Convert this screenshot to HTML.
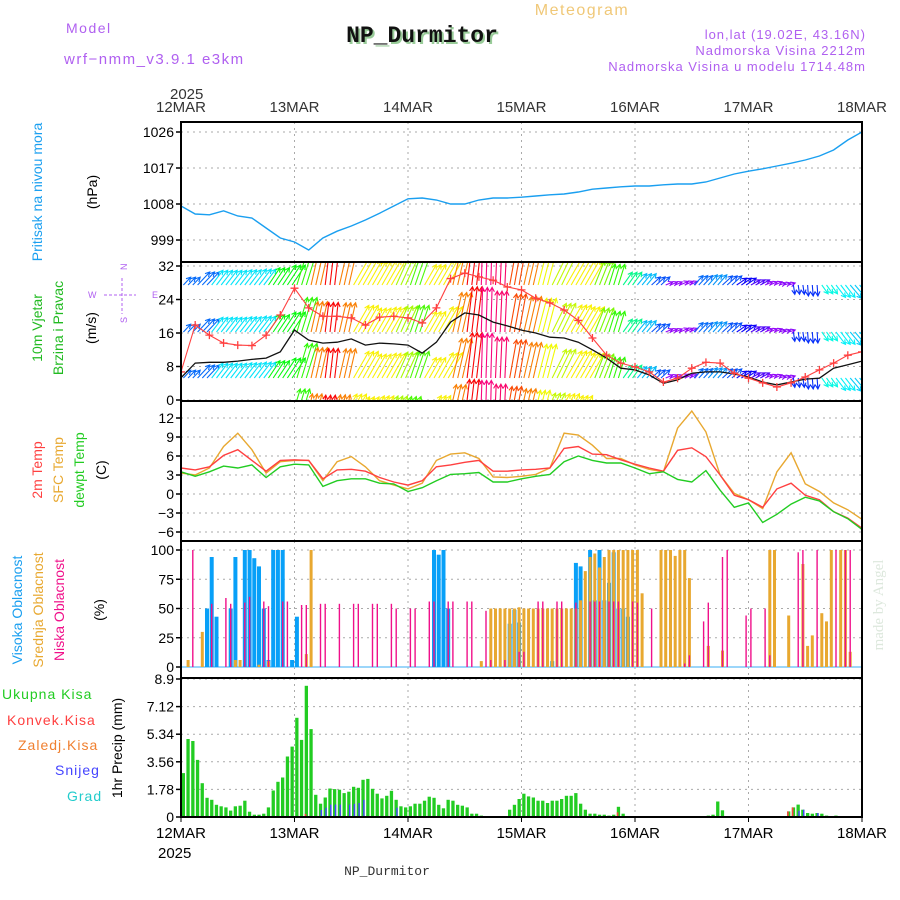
<!DOCTYPE html>
<html><head><meta charset="utf-8"><style>
html,body{margin:0;padding:0;background:#fff;}
svg{display:block;font-family:"Liberation Sans",sans-serif;}
</style></head><body>
<svg id="chart" width="900" height="900" viewBox="0 0 900 900" xmlns="http://www.w3.org/2000/svg">
<rect x="0" y="0" width="900" height="900" fill="#fff"/>
<g id="header">
<text x="66" y="33" font-size="14" fill="#b060f0" letter-spacing="1.5">Model</text>
<text x="64" y="64" font-size="15" fill="#b060f0" letter-spacing="1.5">wrf−nmm_v3.9.1 e3km</text>
<text x="424" y="44" font-size="23" font-weight="bold" font-family="Liberation Mono, monospace" fill="#9c9" text-anchor="middle">NP_Durmitor</text>
<text x="422" y="42" font-size="23" font-weight="bold" font-family="Liberation Mono, monospace" fill="#111" text-anchor="middle">NP_Durmitor</text>
<text x="582" y="15" font-size="16" fill="#f0c878" text-anchor="middle" letter-spacing="1.5">Meteogram</text>
<text x="866" y="39" font-size="13" fill="#b060f0" text-anchor="end" letter-spacing="1">lon,lat (19.02E, 43.16N)</text>
<text x="866" y="55" font-size="13" fill="#b060f0" text-anchor="end" letter-spacing="1">Nadmorska Visina 2212m</text>
<text x="866" y="71" font-size="13" fill="#b060f0" text-anchor="end" letter-spacing="1">Nadmorska Visina u modelu 1714.48m</text>
</g>
<g id="gridg"></g>
<g id="marks"></g>
<g id="frames"></g>
<g id="labels">
<text transform="translate(42,192) rotate(-90)" font-size="14" fill="#1a9ff0" text-anchor="middle">Pritisak na nivou mora</text>
<text transform="translate(97,192) rotate(-90)" font-size="14" fill="#000" text-anchor="middle">(hPa)</text>
<text transform="translate(42,328) rotate(-90)" font-size="14" fill="#22bb22" text-anchor="middle">10m Vjetar</text>
<text transform="translate(63,328) rotate(-90)" font-size="14" fill="#22bb22" text-anchor="middle">Brzina i Pravac</text>
<text transform="translate(96,328) rotate(-90)" font-size="14" fill="#000" text-anchor="middle">(m/s)</text>
<g fill="#b060f0" font-size="9">
<text x="88" y="298">W</text>
<text x="152" y="298">E</text>
<text transform="translate(127,270) rotate(-90)">N</text>
<text transform="translate(127,323) rotate(-90)">S</text>
<line x1="104" y1="295" x2="136" y2="295" stroke="#b060f0" stroke-dasharray="3,2"/>
<line x1="122" y1="278" x2="122" y2="314" stroke="#b060f0" stroke-dasharray="3,2"/>
</g>
<text transform="translate(42,470) rotate(-90)" font-size="14" fill="#ff4040" text-anchor="middle">2m Temp</text>
<text transform="translate(63,470) rotate(-90)" font-size="14" fill="#e8a830" text-anchor="middle">SFC Temp</text>
<text transform="translate(84,470) rotate(-90)" font-size="14" fill="#22cc22" text-anchor="middle">dewpt Temp</text>
<text transform="translate(106,470) rotate(-90)" font-size="14" fill="#000" text-anchor="middle">(C)</text>
<text transform="translate(22,610) rotate(-90)" font-size="14" fill="#1a9ff0" text-anchor="middle">Visoka Oblacnost</text>
<text transform="translate(43,610) rotate(-90)" font-size="14" fill="#e8a830" text-anchor="middle">Srednja Oblacnost</text>
<text transform="translate(64,610) rotate(-90)" font-size="14" fill="#f0108a" text-anchor="middle">Niska Oblacnost</text>
<text transform="translate(104,610) rotate(-90)" font-size="14" fill="#000" text-anchor="middle">(%)</text>
<text x="883" y="605" transform="rotate(-90,883,605)" font-size="15" font-family="Liberation Serif, serif" fill="#dde8dd" text-anchor="middle">made by Angel</text>
<text x="2" y="699" font-size="14" fill="#22cc22" letter-spacing="1">Ukupna Kisa</text>
<text x="7" y="725" font-size="14" fill="#ff4040" letter-spacing="1">Konvek.Kisa</text>
<text x="18" y="750" font-size="14" fill="#f08030" letter-spacing="1">Zaledj.Kisa</text>
<text x="55" y="775" font-size="14" fill="#4444ff" letter-spacing="1">Snijeg</text>
<text x="67" y="801" font-size="14" fill="#22cccc" letter-spacing="1">Grad</text>
<text transform="translate(122,748) rotate(-90)" font-size="14" fill="#000" text-anchor="middle">1hr Precip (mm)</text>
<text x="170" y="99" font-size="15" fill="#333">2025</text>
<text x="158" y="858" font-size="15" fill="#000">2025</text>
<text x="387" y="875" font-size="13" fill="#333" font-family="Liberation Mono, monospace" text-anchor="middle">NP_Durmitor</text>
</g>
</svg>
<script>
// ---- data (3-hourly, 12MAR 00 -> 18MAR 00) ----
const dayLabels = ["12MAR","13MAR","14MAR","15MAR","16MAR","17MAR","18MAR"];
const pressure = [1007.5,1005.5,1005.3,1006.3,1005,1004.5,1002,999.5,998.5,996.5,999.5,1001.2,1002.5,1004,1005.7,1007.5,1009.3,1009.5,1009,1008,1008,1009,1009.5,1009.5,1009.7,1010,1010.3,1010.5,1011,1011.7,1012,1012.3,1012.5,1012.5,1012.8,1013,1013,1013.5,1014.5,1015.5,1016.2,1016.8,1017.5,1018.2,1019,1020,1021.5,1024,1026];
const pressureTicks = [1026,1017,1008,999];
const windSpeed = [5.3,8.8,9,9,9.3,9.7,10,11.5,16.7,14.3,13.6,13.8,14.6,13.1,13.6,13.4,13.1,11.2,13.8,18.6,20.8,20.3,18.6,17.7,16.7,16,15,14.8,13.8,12,10,7.6,7.2,6,4,4.8,6.4,6.7,6.7,6.2,5.5,4.3,3.6,4.3,5,5.2,7.6,8.4,9.3];
const windGust = [6.7,17.9,15.5,13.6,13.1,13,15.5,20.3,26.7,22,20,20,19.6,17.9,19.8,20,19.6,18.4,22,29,30.3,29.4,28.6,27,26.3,24.3,23.2,21.5,19,14.8,10.7,8.8,7.9,6.7,4.3,5.2,7.6,9,8.8,6.4,5.2,4.1,3.1,4.1,5.5,7.2,8.8,10.7,11.5];
const windDir = [228,228,222,222,222,222,218,218,200,195,188,195,214,214,214,208,202,214,214,195,188,182,183,192,195,197,210,214,214,205,200,220,224,232,250,250,228,226,232,240,245,250,255,350,355,320,318,315,320];
const windTicks = [32,24,16,8,0];
const temp2m = [4.1,3.8,4.3,6.1,7,5.3,3.6,5.3,5.4,5.3,2.4,3.8,3.9,3.6,2.6,1.9,1.4,2.1,4.3,4.6,5,5.3,3.6,3.6,3.8,3.9,4.1,7.2,7.5,6.3,6.2,5.4,4.7,4.1,3.6,6.9,7.3,5.9,3.0,-0.2,-0.9,-2.1,0.8,1.7,-0.2,-0.9,-2.8,-3.8,-5.4];
const tempSfc = [3.3,3.0,4.1,7.5,9.6,7,3.3,5.1,5.3,5.3,2.1,5.1,5.9,4.3,2.1,1.4,0.8,1.7,5.3,6.3,6.5,5.6,2.7,2.6,2.8,3.1,4.1,9.6,9.3,7.7,5.6,5.6,4.6,3.9,3.5,10.4,13.1,9.8,3.0,0.1,-0.9,-2.3,3.5,6.5,1.6,0.4,-1.4,-2.5,-4];
const tempDew = [3.5,2.8,3.5,4.4,4.1,4.6,2.6,4.3,4.7,4.6,1.2,2.1,2.4,2.4,1.7,1.6,0.4,1.0,2.1,3.1,3.2,3.4,1.9,1.9,2.4,2.8,3.1,5.1,6.0,5.3,4.9,4.9,4.1,3.2,3.5,2.3,1.9,3.7,0.6,-2.1,-1.4,-4.5,-3.2,-1.6,-0.5,-1.1,-2.8,-3.9,-5.6];
const tempTicks = [12,9,6,3,0,-3,-6];
// hourly cloud cover (%)
const cloudHigh = [0,0,0,0,0,50,94,43,0,0,50,94, 0,100,100,93,86,50,6,100,100,100,0,6, 43,0,0,0,0,0,0,0,0,0,0,0, 0,0,0,0,0,0,0,0,0,0,0,0, 0,0,0,0,0,100,96,100,50,0,0,0, 0,0,0,0,0,0,0,0,0,37,49,38, 0,0,0,0,0,0,5,0,0,0,0,89, 86,0,100,57,100,57,72,98,50,50,43,0, 0,0,0,0,0,0,0,0,0,0,0,0, 0,0,0,0,0,0,0,0,0,0,0,0, 0,0,0,0,0,0,0,0,0,0,0,0, 0,0,0,0,0,0,0,0,0,0,0,0];
const cloudMid = [0,6,0,0,30,0,0,0,0,0,0,6, 6,0,0,0,2,0,5,0,0,0,0,0, 0,0,11,100,0,0,0,0,0,0,0,0, 0,0,0,0,0,0,0,0,0,0,0,0, 0,0,0,0,0,0,0,0,0,0,0,0, 0,0,0,5,0,50,50,50,50,50,50,51, 50,50,50,50,50,50,50,50,50,50,50,50, 57,82,94,97,85,94,100,100,100,100,100,100, 100,63,0,0,0,100,100,100,95,100,100,76, 0,0,0,18,0,0,14,0,0,0,0,0, 0,0,0,0,100,100,0,0,44,0,0,88, 18,27,0,46,39,100,0,100,100,13,0,0];
const cloudLow = [0,0,100,0,0,0,54,0,0,59,54,0, 0,55,60,0,0,56,52,0,0,56,56,0, 0,53,53,0,0,54,54,0,0,54,0,0, 54,54,0,0,54,54,0,0,54,50,0,0, 50,50,0,0,56,56,0,0,56,56,0,0, 56,56,0,0,48,6,0,0,6,0,0,13, 13,0,0,56,56,0,0,56,56,0,0,55, 0,0,56,56,56,0,56,56,56,0,0,56, 55,0,0,50,0,0,0,0,0,0,3,10, 0,0,39,55,0,0,94,100,0,0,0,44, 50,0,0,50,10,0,0,0,0,0,98,100, 0,0,100,0,0,0,100,0,100,100,0,0];
const cloudTicks = [100,75,50,25,0];
// hourly precipitation (mm)
const precipTotal = [2.83,5.03,4.9,3.68,2.18,1.24,1.11,0.79,0.69,0.62,0.41,0.69, 0.73,1.05,0.34,0.15,0.15,0.21,0.62,1.71,2.27,2.55,3.9,4.54, 6.4,4.97,8.46,5.67,1.43,0.86,1.26,1.84,1.8,1.76,1.54,1.63, 1.95,1.88,2.4,2.46,1.82,1.5,1.2,1.37,1.69,1.11,0.69,0.62, 0.69,0.86,0.86,1.05,1.31,1.24,0.79,0.56,1.11,1.05,0.79,0.73, 0.62,0.21,0.21,0.09,0,0,0,0,0,0.47,0.79,1.16, 1.5,1.33,1.26,1.05,1.05,0.9,1.05,1.05,1.16,1.37,1.37,1.54, 0.86,0.47,0.21,0.21,0.15,0.15,0.09,0.15,0.66,0.21,0,0, 0,0,0,0,0,0,0,0,0,0,0,0, 0,0,0,0.09,0.15,1.0,0.43,0,0,0,0,0, 0,0,0,0,0,0,0,0,0.36,0.62,0.8,0.47, 0.26,0.21,0.26,0.21,0.09,0,0.09,0,0,0,0,0];
const precipConv = [0,0,0,0,0,0,0,0,0,0,0,0, 0,0,0,0,0,0,0,0,0,0,0,0, 0,0,0.2,0,0,0,0,0,0,0,0,0, 0,0,0,0,0,0,0,0,0,0,0,0, 0,0,0,0,0,0,0,0,0,0,0,0, 0,0,0,0,0,0,0,0,0,0,0,0, 0,0,0,0,0,0,0,0,0,0,0,0, 0,0,0,0,0,0,0,0,0.3,0,0,0, 0,0,0,0,0,0,0,0,0,0,0,0, 0,0,0,0,0,0,0,0,0,0,0,0, 0,0,0,0,0,0,0,0,0.36,0.62,0,0, 0,0,0,0,0,0,0,0,0,0,0,0];
const precipSnow = [0,0,0,0,0,0,0,0,0,0,0,0, 0,0,0,0,0,0,0,0,0,0,0,0, 0,0,0,0,0,0.45,0.6,0.8,0.8,0.8,0,0.8, 0.85,0.9,1.1,0,0,0,0,0,0,0.6,0,0, 0,0,0,0,0,0,0,0,0,0,0,0, 0,0,0,0,0,0,0,0,0,0,0,0, 0,0,0,0,0,0,0,0,0,0,0,0, 0,0,0,0,0,0,0,0,0,0,0,0, 0,0,0,0,0,0,0,0,0,0,0,0, 0,0,0,0,0,0,0,0,0,0,0,0, 0,0,0,0,0,0,0,0,0,0,0.4,0.47, 0,0,0.26,0,0,0,0,0,0,0,0,0];
const precipTicks = [8.9,7.12,5.34,3.56,1.78,0];

// ---- axes ----
const X0 = 181, X1 = 862, HOURS = 144;
const xH = h => X0 + h * (X1 - X0) / HOURS;
const yP = v => 132 + (1026 - v) * 4;
const yW = v => 400 - v * 134 / 32;
const yT = v => 494 - v * 19 / 3;
const yC = v => 667 - v * 1.17;
const yR = v => 817 - v * 138 / 8.9;
const panels = [[122,262],[262,401],[401,541],[541,678],[678,817]];

const NS = "http://www.w3.org/2000/svg";
function mk(tag, attrs, parent) {
  const e = document.createElementNS(NS, tag);
  for (const k in attrs) e.setAttribute(k, attrs[k]);
  parent.appendChild(e);
  return e;
}
const grid = document.getElementById('gridg');
const marks = document.getElementById('marks');
const frames = document.getElementById('frames');

dayLabels.forEach((d, i) => {
  const x = xH(i * 24);
  panels.forEach(p => {
    const l = mk('line', {x1:x, y1:p[0], x2:x, y2:p[1], stroke:'#aaa', 'stroke-dasharray':'2,4'}, grid);
    
    
  });
  const t = mk('text', {x:x, y:112, 'font-size':15, fill:'#333', 'text-anchor':'middle'}, grid);
  t.textContent = d;
  
  
  const b = mk('text', {x:x, y:838, 'font-size':15, fill:'#000', 'text-anchor':'middle'}, grid);
  b.textContent = d;
  
  
  const tk = mk('line', {x1:x, y1:817, x2:x, y2:822, stroke:'#000'}, grid);
  
  
});
function yTicks(ticks, yf, name) {
  ticks.forEach(v => {
    const y = yf(v);
    const g = mk('line', {x1:X0, y1:y, x2:X1, y2:y, stroke:'#aaa', 'stroke-dasharray':'2,4'}, grid);
    
    
    const tk = mk('line', {x1:X0-5, y1:y, x2:X0, y2:y, stroke:'#000', 'stroke-width':1.5}, grid);
    
    
    const t = mk('text', {x:X0-7, y:y+5, 'font-size':14, fill:'#000', 'text-anchor':'end'}, grid);
    t.textContent = v < 0 ? '−' + (-v) : String(v);
    
    
  });
}
yTicks(pressureTicks, yP, 'pressure');
yTicks(windTicks, yW, 'wind');
yTicks(tempTicks, yT, 'temp');
yTicks(cloudTicks, yC, 'cloud');
yTicks(precipTicks, yR, 'precip');

const defs = mk('defs', {}, document.getElementById('chart'));
panels.forEach((p, i) => {
  const cp = mk('clipPath', {id:'clip' + i}, defs);
  mk('rect', {x:X0, y:p[0], width:X1 - X0, height:p[1] - p[0]}, cp);
});

function line(arr, yf, color, name, clip, width) {
  const pts = arr.map((v, i) => xH(i * 3).toFixed(1) + ',' + yf(v).toFixed(1)).join(' ');
  const pl = mk('polyline', {points:pts, fill:'none', stroke:color, 'stroke-width':width || 1.3, 'clip-path':'url(#clip' + clip + ')'}, marks);
  
  
  return pl;
}

line(pressure, yP, '#1a9ff0', 'pressure-line', 0, 1.4);

// wind arrows
const hueTable = [[0,230],[170,320],[182,330],[188,360],[195,390],[200,470],[214,418],[222,545],[228,575],[235,585],[250,635],[300,600],[320,535],[350,590],[360,590]];
function dirHue(d) {
  d = ((d % 360) + 360) % 360;
  for (let i = 1; i < hueTable.length; i++) {
    if (d <= hueTable[i][0]) {
      const a = hueTable[i-1], b = hueTable[i];
      return (a[1] + (b[1] - a[1]) * (d - a[0]) / (b[0] - a[0])) % 360;
    }
  }
  return 230;
}
const windG = mk('g', {'clip-path':'url(#clip1)'}, marks);


const bands = [[285,2.2,0],[332,2.2,0],[378,2.2,0],[400,2.2,25]];
for (let h = 0; h < HOURS; h++) {
  const k = Math.floor(h / 3);
  const spd = windSpeed[k], dir = windDir[k];
  const col = 'hsl(' + dirHue(dir).toFixed(0) + ',95%,50%)';
  const to = (dir + 180) * Math.PI / 180;
  bands.forEach(b => {
    const len = spd * b[1] - b[2];
    if (len < 3) return;
    const x = xH(h + 0.5), y = b[0];
    const dx = Math.sin(to) * len * 0.85, dy = -Math.cos(to) * len;
    const tx = x + dx, ty = y + dy;
    const ang = Math.atan2(dy, dx);
    const hl = 5;
    const d = 'M' + x.toFixed(1) + ' ' + y + 'L' + tx.toFixed(1) + ' ' + ty.toFixed(1) +
      'M' + (tx - hl * Math.cos(ang - 0.5)).toFixed(1) + ' ' + (ty - hl * Math.sin(ang - 0.5)).toFixed(1) +
      'L' + tx.toFixed(1) + ' ' + ty.toFixed(1) +
      'L' + (tx - hl * Math.cos(ang + 0.5)).toFixed(1) + ' ' + (ty - hl * Math.sin(ang + 0.5)).toFixed(1);
    const p = mk('path', {d:d, stroke:col, 'stroke-width':1.1, fill:'none'}, windG);
    
    
  });
}
line(windSpeed, yW, '#111', 'wind-speed-line', 1, 1.3);
line(windGust, yW, '#ff4040', 'wind-gust-line', 1, 1.1);
windGust.forEach((v, i) => {
  const x = xH(i * 3), y = yW(v);
  const c = mk('path', {d:'M' + (x-4) + ' ' + y + 'L' + (x+4) + ' ' + y + 'M' + x + ' ' + (y-4) + 'L' + x + ' ' + (y+4), stroke:'#ff4040', 'stroke-width':1.3, 'clip-path':'url(#clip1)'}, marks);
  
  
});

line(tempSfc, yT, '#e8a830', 'sfc-temp-line', 2, 1.4);
line(temp2m, yT, '#ff4040', '2m-temp-line', 2, 1.4);
line(tempDew, yT, '#22cc22', 'dewpt-temp-line', 2, 1.4);

const base = mk('line', {x1:X0, y1:667, x2:X1, y2:667, stroke:'#7cc8f8', 'stroke-width':1.5}, marks);


function bars(arr, yf, color, w, name, y0, off) {
  arr.forEach((v, i) => {
    if (v <= 0) return;
    const x = xH(i + 0.5) + (off || 0);
    const y = yf(v);
    const r = mk('rect', {x:(x - w / 2).toFixed(1), y:y.toFixed(1), width:w, height:(y0 - y).toFixed(1), fill:color}, marks);
    
    
  });
}
bars(cloudHigh, yC, '#08a0f8', 4, 'cloud-high-bar', 667);
bars(cloudMid, yC, '#e8a830', 3, 'cloud-mid-bar', 667);
bars(cloudLow, yC, '#f0108a', 1.4, 'cloud-low-bar', 667);

bars(precipTotal, yR, '#22cc22', 3.3, 'precip-total-bar', 817);
bars(precipConv, yR, '#ff4040', 1.6, 'precip-convective-bar', 817, -0.8);
bars(precipSnow, yR, '#4444ff', 1.4, 'precip-snow-bar', 817, 0.8);

panels.forEach((p, i) => {
  const r = mk('rect', {x:X0, y:p[0], width:X1 - X0, height:p[1] - p[0], fill:'none', stroke:'#000', 'stroke-width':2}, frames);
  
  
});
</script>
</body></html>
